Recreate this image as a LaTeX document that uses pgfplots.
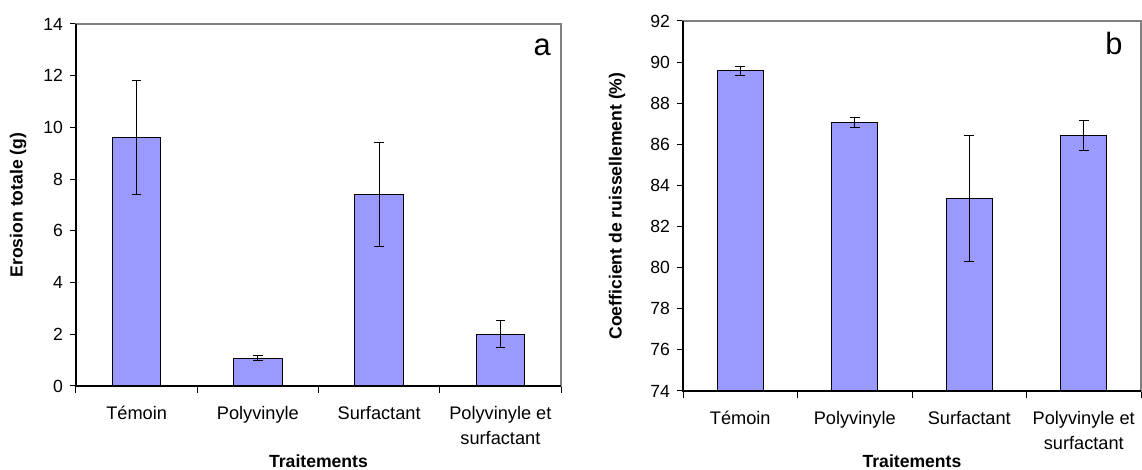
\documentclass[border=0pt]{standalone}
\usepackage{fontspec}
\setmainfont{Liberation Sans}
\usepackage{pgfplots}
\pgfplotsset{compat=1.18}
\definecolor{barfill}{HTML}{9999FF}
\definecolor{framegray}{HTML}{808080}

\pgfplotsset{
  mystyle/.style={
    scale only axis,
    ybar, bar width=0.4,
    xmin=0.5, xmax=4.5,
    xtick={1,2,3,4},
    xticklabels={Témoin,Polyvinyle,Surfactant,{Polyvinyle et\\surfactant}},
    minor xtick={0.5,1.5,2.5,3.5,4.5},
    tick align=outside, tick pos=left,
    major tick length=3pt, minor tick length=3.5pt,
    tick style={black, line width=0.5pt},
    major x tick style={draw=none},
    axis line style={draw=framegray, line width=0.6pt},
    /pgf/number format/assume math mode=true,
    yticklabel style={font=\fontsize{8.8}{10}\selectfont},
    xticklabel style={align=center, font=\fontsize{9.1}{12.5}\selectfont, yshift=-3.5pt},
    after end axis/.code={\draw[black, line width=0.6pt] (rel axis cs:0,1) -- (rel axis cs:0,0) -- (rel axis cs:1,0);},
  },
  barplot/.style={fill=barfill, draw=black, line width=0.5pt,
    error bars/.cd, y dir=both, y explicit,
    error bar style={black, line width=0.5pt},
    error mark options={black, rotate=90, mark size=2.4pt, line width=0.5pt}},
}

\begin{document}
\begin{tikzpicture}
\useasboundingbox (0,0) rectangle (571pt,235pt);
\begin{axis}[mystyle,
  at={(38pt,42pt)}, anchor=south west,
  width=242.5pt, height=181pt,
  ymin=0, ymax=14, ytick={0,2,...,14},
  ylabel={Erosion totale (g)},
  xlabel={Traitements},
  every axis y label/.style={at={(axis description cs:-0.1196,0.5)}, rotate=90, anchor=center, font=\bfseries\fontsize{8.8}{10}\selectfont},
  every axis x label/.style={at={(axis description cs:0.5,0)}, anchor=center, yshift=-37.5pt, font=\bfseries\fontsize{8.8}{10}\selectfont},
]
\addplot[barplot] coordinates {
  (1,9.62) +- (0,2.21)
  (2,1.08) +- (0,0.10)
  (3,7.42) +- (0,2.01)
  (4,2.00) +- (0,0.53)
};
\node[font=\fontsize{15.4}{18}\selectfont] at (rel axis cs:0.961,0.936) {a};
\end{axis}

\begin{axis}[mystyle,
  at={(341.5pt,39.5pt)}, anchor=south west,
  width=229pt, height=185pt,
  ymin=74, ymax=92, ytick={74,76,...,92},
  ylabel={Coefficient de ruissellement (\%)},
  xlabel={Traitements},
  every axis y label/.style={at={(axis description cs:-0.144,0.5)}, rotate=90, anchor=center, font=\bfseries\fontsize{8.8}{10}\selectfont},
  every axis x label/.style={at={(axis description cs:0.5,0)}, anchor=center, yshift=-35pt, font=\bfseries\fontsize{8.8}{10}\selectfont},
]
\addplot[barplot] coordinates {
  (1,89.58) +- (0,0.23)
  (2,87.07) +- (0,0.23)
  (3,83.35) +- (0,3.06)
  (4,86.43) +- (0,0.73)
};
\node[font=\fontsize{15.4}{18}\selectfont] at (rel axis cs:0.941,0.938) {b};
\end{axis}
\end{tikzpicture}
\end{document}
